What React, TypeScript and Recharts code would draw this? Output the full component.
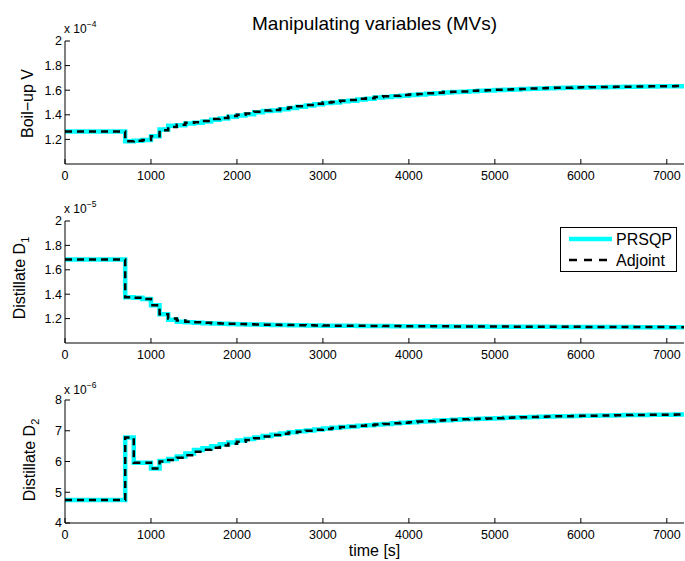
import React from 'react';
import { LineChart, Line, XAxis, YAxis, Legend } from 'recharts';

const FONT = '"Liberation Sans", Arial, Helvetica, sans-serif';

// time [s] of each control interval start
const TIME = [
  0, 700, 800, 900, 1000, 1100, 1200, 1300, 1400, 1500, 1600, 1700, 1800, 1900,
  2000, 2100, 2200, 2300, 2400, 2500, 2600, 2700, 2800, 2900, 3000, 3100, 3200,
  3300, 3400, 3500, 3600, 3700, 3800, 3900, 4000, 4100, 4200, 4300, 4400, 4500,
  4600, 4700, 4800, 4900, 5000, 5100, 5200, 5300, 5400, 5500, 5600, 5700, 5800,
  5900, 6000, 6100, 6200, 6300, 6400, 6500, 6600, 6700, 6800, 6900, 7000, 7100, 7200,
];

// Boil-up V (x 1e-4)
const V_ADJOINT = [
  1.265, 1.185, 1.19, 1.195, 1.225, 1.275, 1.3, 1.32, 1.335, 1.34, 1.35, 1.365, 1.375, 1.39,
  1.4, 1.41, 1.425, 1.435, 1.44, 1.45, 1.46, 1.47, 1.48, 1.49, 1.5, 1.505, 1.515,
  1.52, 1.53, 1.535, 1.545, 1.55, 1.555, 1.56, 1.565, 1.57, 1.575, 1.58, 1.585, 1.588,
  1.59, 1.595, 1.598, 1.6, 1.603, 1.606, 1.608, 1.61, 1.613, 1.615, 1.617, 1.619, 1.62,
  1.622, 1.623, 1.625, 1.626, 1.627, 1.628, 1.629, 1.63, 1.631, 1.632, 1.633, 1.633, 1.634, 1.634,
];
const V_PRSQP = [
  1.265, 1.185, 1.19, 1.195, 1.225, 1.28, 1.31, 1.315, 1.33, 1.335, 1.345, 1.36, 1.37, 1.385,
  1.395, 1.405, 1.42, 1.43, 1.435, 1.445, 1.455, 1.465, 1.475, 1.485, 1.495, 1.5, 1.51,
  1.515, 1.525, 1.53, 1.54, 1.545, 1.55, 1.555, 1.56, 1.566, 1.571, 1.576, 1.581, 1.585,
  1.588, 1.592, 1.596, 1.598, 1.601, 1.604, 1.606, 1.609, 1.611, 1.613, 1.616, 1.618, 1.619,
  1.621, 1.622, 1.624, 1.625, 1.626, 1.627, 1.628, 1.629, 1.63, 1.631, 1.632, 1.632, 1.633, 1.633,
];

// Distillate D1 (x 1e-5)
const D1_ADJOINT = [
  1.685, 1.375, 1.37, 1.36, 1.31, 1.235, 1.2, 1.185, 1.175, 1.17, 1.165, 1.162, 1.16, 1.157,
  1.155, 1.153, 1.152, 1.15, 1.149, 1.148, 1.147, 1.146, 1.145, 1.144, 1.143, 1.142, 1.142,
  1.141, 1.141, 1.14, 1.14, 1.139, 1.139, 1.138, 1.138, 1.138, 1.137, 1.137, 1.137, 1.136,
  1.136, 1.136, 1.135, 1.135, 1.135, 1.135, 1.134, 1.134, 1.134, 1.134, 1.133, 1.133, 1.133,
  1.133, 1.132, 1.132, 1.132, 1.132, 1.132, 1.131, 1.131, 1.131, 1.131, 1.131, 1.13, 1.13, 1.13,
];
const D1_PRSQP = [
  1.685, 1.375, 1.37, 1.36, 1.31, 1.235, 1.19, 1.175, 1.17, 1.165, 1.162, 1.16, 1.158, 1.156,
  1.154, 1.152, 1.151, 1.149, 1.148, 1.147, 1.146, 1.145, 1.144, 1.143, 1.142, 1.142, 1.141,
  1.141, 1.14, 1.14, 1.139, 1.139, 1.138, 1.138, 1.137, 1.137, 1.137, 1.136, 1.136, 1.136,
  1.135, 1.135, 1.135, 1.134, 1.134, 1.134, 1.134, 1.133, 1.133, 1.133, 1.133, 1.132, 1.132,
  1.132, 1.132, 1.131, 1.131, 1.131, 1.131, 1.131, 1.13, 1.13, 1.13, 1.13, 1.13, 1.13, 1.13,
];

// Distillate D2 (x 1e-6)
const D2_ADJOINT = [
  4.75, 6.78, 5.96, 5.96, 5.77, 6.0, 6.05, 6.12, 6.2, 6.32, 6.38, 6.45, 6.52, 6.58,
  6.64, 6.7, 6.76, 6.81, 6.86, 6.9, 6.94, 6.97, 7.0, 7.03, 7.06, 7.09, 7.12,
  7.14, 7.16, 7.18, 7.2, 7.22, 7.24, 7.26, 7.28, 7.3, 7.31, 7.33, 7.34, 7.36,
  7.37, 7.38, 7.39, 7.4, 7.41, 7.42, 7.43, 7.44, 7.45, 7.455, 7.46, 7.47, 7.475,
  7.48, 7.485, 7.49, 7.495, 7.5, 7.505, 7.51, 7.512, 7.515, 7.518, 7.52, 7.522, 7.525, 7.525,
];
const D2_PRSQP = [
  4.75, 6.78, 5.96, 5.96, 5.77, 6.02, 6.08, 6.16, 6.26, 6.37, 6.43, 6.5, 6.56, 6.62,
  6.68, 6.73, 6.78, 6.83, 6.87, 6.91, 6.95, 6.98, 7.01, 7.04, 7.07, 7.1, 7.12,
  7.14, 7.16, 7.18, 7.2, 7.22, 7.24, 7.26, 7.28, 7.3, 7.31, 7.33, 7.34, 7.36,
  7.37, 7.38, 7.39, 7.4, 7.41, 7.42, 7.43, 7.44, 7.45, 7.455, 7.46, 7.47, 7.475,
  7.48, 7.485, 7.49, 7.495, 7.5, 7.505, 7.51, 7.512, 7.515, 7.518, 7.52, 7.522, 7.525, 7.525,
];

const X_TICKS = [0, 1000, 2000, 3000, 4000, 5000, 6000, 7000];
const Y_TICKS_V = [1.2, 1.4, 1.6, 1.8, 2];
const Y_TICKS_D1 = [1.2, 1.4, 1.6, 1.8, 2];
const Y_TICKS_D2 = [4, 5, 6, 7, 8];

const build = (p: number[], a: number[]) => TIME.map((t, i) => ({ t, p: p[i], a: a[i] }));

const tickStyle = { fill: '#000', fontSize: 12.5, fontFamily: FONT };

const LegendBox = () => (
  <div style={{ width: 117, height: 45, border: '1px solid #000', boxSizing: 'border-box', background: '#fff' }}>
    <svg width={115} height={43} style={{ display: 'block' }}>
      <line x1={8} y1={11} x2={51} y2={11} stroke="#00FFFF" strokeWidth={4.5} />
      <text x={55} y={17} fontSize={16} fontFamily={FONT} fill="#000">PRSQP</text>
      <line x1={8} y1={32} x2={51} y2={32} stroke="#000" strokeWidth={2.5} strokeDasharray="8 7" />
      <text x={55} y={38} fontSize={16} fontFamily={FONT} fill="#000">Adjoint</text>
    </svg>
  </div>
);

type PanelProps = {
  top: number;
  height: number;
  marginTop: number;
  marginBottom: number;
  xHeight: number;
  data: { t: number; p: number; a: number }[];
  domain: [number, number];
  ticks: number[];
  legend?: boolean;
};

const Panel = ({ top, height, marginTop, marginBottom, xHeight, data, domain, ticks, legend }: PanelProps) => (
  <div style={{ position: 'absolute', left: 0, top, width: 685, height }}>
    <LineChart width={685} height={height} data={data} margin={{ top: marginTop, right: 1, bottom: marginBottom, left: 0 }}>
      <XAxis
        dataKey="t"
        type="number"
        domain={[0, 7200]}
        ticks={X_TICKS}
        allowDataOverflow
        interval={0}
        height={xHeight}
        tickSize={-5}
        tickMargin={12}
        stroke="#000"
        tick={tickStyle}
      />
      <XAxis
        xAxisId="top"
        orientation="top"
        type="number"
        domain={[0, 7200]}
        ticks={X_TICKS}
        allowDataOverflow
        interval={0}
        height={0}
        tickSize={-5}
        tick={false}
        stroke="#000"
      />
      <YAxis
        type="number"
        domain={domain}
        ticks={ticks}
        allowDataOverflow
        interval={0}
        width={65}
        tickSize={-5}
        tickMargin={8}
        stroke="#000"
        tick={tickStyle}
      />
      <YAxis
        yAxisId="right"
        orientation="right"
        type="number"
        domain={domain}
        ticks={ticks}
        allowDataOverflow
        interval={0}
        width={0}
        tickSize={-5}
        tick={false}
        stroke="#000"
      />
      <Line dataKey="p" name="PRSQP" type="stepAfter" stroke="#00FFFF" strokeWidth={4.5} dot={false} activeDot={false} isAnimationActive={false} />
      <Line dataKey="a" name="Adjoint" type="stepAfter" stroke="#000" strokeWidth={2.5} strokeDasharray="7 5" dot={false} activeDot={false} isAnimationActive={false} />
      {legend && (
        <Legend
          layout="vertical"
          align="center"
          verticalAlign="middle"
          wrapperStyle={{ left: 560, top: 47, width: 117, height: 45 }}
          content={() => <LegendBox />}
        />
      )}
    </LineChart>
  </div>
);

export default function App() {
  return (
    <div style={{ position: 'absolute', left: 0, top: 0, width: 685, height: 561, background: '#fff', overflow: 'hidden' }}>
      <Panel top={0} height={185} marginTop={41} marginBottom={0} xHeight={21} data={build(V_PRSQP, V_ADJOINT)} domain={[1, 2]} ticks={Y_TICKS_V} />
      <Panel top={180} height={185} marginTop={41} marginBottom={0} xHeight={22} data={build(D1_PRSQP, D1_ADJOINT)} domain={[1, 2]} ticks={Y_TICKS_D1} legend />
      <Panel top={360} height={201} marginTop={40} marginBottom={18} xHeight={20} data={build(D2_PRSQP, D2_ADJOINT)} domain={[4, 8]} ticks={Y_TICKS_D2} />
      <svg width={685} height={561} style={{ position: 'absolute', left: 0, top: 0, pointerEvents: 'none' }} fontFamily={FONT}>
        <text x={374.5} y={29.5} textAnchor="middle" fontSize={19} fill="#000">Manipulating variables (MVs)</text>

        <text x={64} y={33.3} fontSize={12} fill="#000">x 10<tspan fontSize={8.5} dy={-6}>−4</tspan></text>
        <text x={64} y={213.3} fontSize={12} fill="#000">x 10<tspan fontSize={8.5} dy={-6}>−5</tspan></text>
        <text x={64} y={394} fontSize={12} fill="#000">x 10<tspan fontSize={8.5} dy={-6}>−6</tspan></text>

        <text transform="translate(32.5,103.5) rotate(-90)" textAnchor="middle" fontSize={16} fill="#000">Boil−up V</text>
        <text transform="translate(25,278) rotate(-90)" textAnchor="middle" fontSize={16} fill="#000">Distillate D<tspan fontSize={11} dy={4}>1</tspan></text>
        <text transform="translate(35,460) rotate(-90)" textAnchor="middle" fontSize={16} fill="#000">Distillate D<tspan fontSize={11} dy={4}>2</tspan></text>

        <text x={374.5} y={556} textAnchor="middle" fontSize={16} fill="#000">time [s]</text>
      </svg>
    </div>
  );
}
